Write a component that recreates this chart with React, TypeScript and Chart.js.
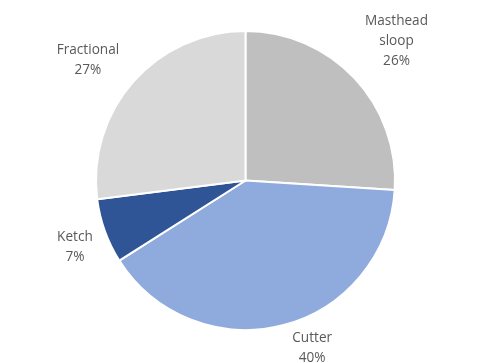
import React, { useEffect, useRef } from "react";
import { Chart, registerables } from "chart.js";

Chart.register(...registerables);

const categories = ["Masthead sloop", "Cutter", "Ketch", "Fractional"];
const labelLines = [["Masthead", "sloop"], ["Cutter"], ["Ketch"], ["Fractional"]];
const shares = [26, 40, 7, 27];
const sliceColors = ["#BFBFBF", "#8FAADC", "#2F5597", "#D9D9D9"];
// Label anchor for each slice, in multiples of the pie radius from its centre
const labelOffsets = [
  [1.01, -0.93],
  [0.446, 1.124],
  [-1.141, 0.446],
  [-1.054, -0.802],
];

const outsideLabels = {
  id: "outsideLabels",
  afterDraw(chart: any) {
    const meta = chart.getDatasetMeta(0);
    const ctx = chart.ctx;
    ctx.save();
    ctx.fillStyle = "#595959";
    ctx.font = '13.6px "Open Sans", sans-serif';
    ctx.textAlign = "center";
    ctx.textBaseline = "middle";
    const lineH = 20;
    meta.data.forEach((arc: any, i: number) => {
      const { x, y, outerRadius } = arc.getProps(["x", "y", "outerRadius"], true);
      const lines = [...labelLines[i], shares[i] + "%"];
      const cx = x + labelOffsets[i][0] * outerRadius;
      const cy = y + labelOffsets[i][1] * outerRadius;
      const top = cy - ((lines.length - 1) * lineH) / 2;
      lines.forEach((t, k) => ctx.fillText(t, cx, top + k * lineH));
    });
    ctx.restore();
  },
};

export default function App() {
  const ref = useRef<HTMLCanvasElement>(null);
  useEffect(() => {
    if (!ref.current) return;
    const chart = new Chart(ref.current, {
      type: "pie",
      data: {
        labels: categories,
        datasets: [
          {
            data: shares,
            backgroundColor: sliceColors,
            borderColor: "#FFFFFF",
            borderWidth: 2,
          },
        ],
      },
      options: {
        responsive: false,
        animation: false,
        layout: { padding: { left: 95, right: 87, top: 30, bottom: 32 } },
        plugins: {
          legend: { display: false },
          tooltip: { enabled: false },
        },
      },
      plugins: [outsideLabels],
    });
    return () => chart.destroy();
  }, []);
  return (
    <div style={{ position: "fixed", left: 0, top: 0, width: 483, height: 363, background: "#FFFFFF" }}>
      <canvas ref={ref} width={483} height={363} style={{ width: 483, height: 363 }} />
    </div>
  );
}
